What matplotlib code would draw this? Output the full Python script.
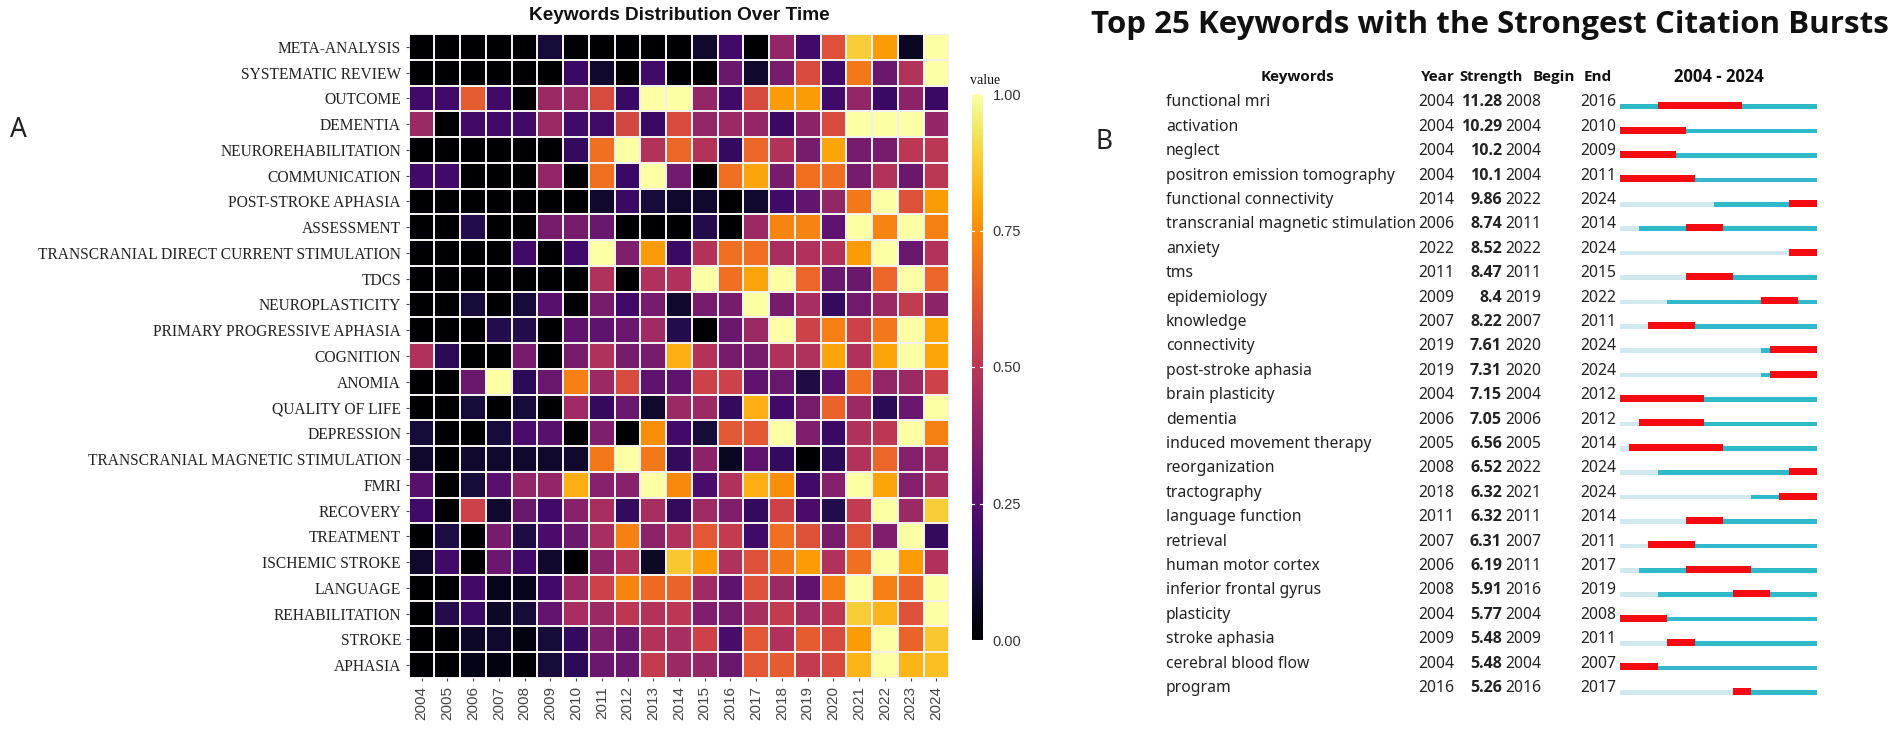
import numpy as np
import matplotlib
matplotlib.use('Agg')
import matplotlib.pyplot as plt

W, H = 1902, 731

# left panel: keyword frequency by year (normalised)
heat_years = list(range(2004, 2025))
heat_keywords = [
    "META-ANALYSIS", "SYSTEMATIC REVIEW", "OUTCOME", "DEMENTIA", "NEUROREHABILITATION",
    "COMMUNICATION", "POST-STROKE APHASIA", "ASSESSMENT", "TRANSCRANIAL DIRECT CURRENT STIMULATION",
    "TDCS", "NEUROPLASTICITY", "PRIMARY PROGRESSIVE APHASIA", "COGNITION", "ANOMIA",
    "QUALITY OF LIFE", "DEPRESSION", "TRANSCRANIAL MAGNETIC STIMULATION", "FMRI", "RECOVERY",
    "TREATMENT", "ISCHEMIC STROKE", "LANGUAGE", "REHABILITATION", "STROKE", "APHASIA",
]
heat_values = [
    [0, 0, 0, 0, 0, .1, 0, 0, 0, 0, 0, .08, .2, 0, .4, .2, .6, .88, .78, .06, 1],
    [0, 0, 0, 0, 0, 0, .18, .08, 0, .2, 0, 0, .3, .08, .33, .58, .2, .7, .3, .48, 1],
    [.2, .2, .63, .2, 0, .42, .42, .58, .18, 1, 1, .4, .2, .58, .78, .78, .2, .4, .18, .38, .18],
    [.42, 0, .2, .2, .2, .42, .2, .2, .57, .18, .58, .4, .42, .4, .18, .38, .58, 1, 1, 1, .4],
    [0, 0, 0, 0, 0, 0, .17, .68, 1, .48, .66, .48, .17, .66, .48, .33, .8, .33, .33, .5, .5],
    [.2, .2, 0, 0, 0, .4, 0, .68, .18, 1, .32, 0, .68, .8, .33, .68, .68, .33, .48, .3, .5],
    [0, 0, 0, 0, 0, 0, 0, .08, .18, .1, .08, .08, 0, .08, .2, .28, .4, .7, 1, .6, .78],
    [0, 0, .13, 0, 0, .33, .33, .3, 0, 0, 0, .13, 0, .42, .73, .73, .27, 1, .73, 1, .72],
    [0, 0, 0, 0, .2, 0, .2, 1, .35, .78, .18, .48, .68, .68, .45, .47, .47, .78, 1, .3, .48],
    [0, 0, 0, 0, 0, 0, 0, .47, 0, .47, .47, 1, .68, .8, 1, .66, .3, .3, .66, 1, .66],
    [0, 0, .1, 0, .1, .25, 0, .33, .2, .33, .08, .33, .33, 1, .33, .45, .17, .32, .42, .52, .38],
    [0, 0, 0, .13, .13, 0, .27, .27, .3, .43, .13, 0, .3, .42, 1, .55, .72, .55, .7, 1, .8],
    [.47, .15, 0, 0, .33, 0, .33, .47, .33, .33, .82, .48, .33, .33, .47, .47, .8, .47, .8, 1, .8],
    [0, 0, .3, 1, .15, .3, .72, .42, .58, .27, .27, .55, .55, .27, .3, .12, .25, .68, .4, .42, .55],
    [0, 0, .1, 0, .1, 0, .43, .17, .3, .08, .42, .42, .17, .82, .2, .33, .65, .42, .15, .3, 1],
    [.1, 0, 0, .1, .22, .25, 0, .35, 0, .75, .2, .1, .62, .62, 1, .35, .18, .47, .5, 1, .72],
    [.08, 0, .08, .08, .08, .08, .08, .7, 1, .7, .17, .38, .06, .27, .17, 0, .15, .48, .66, .36, .43],
    [.25, 0, .1, .25, .4, .4, .82, .37, .37, 1, .74, .22, .47, .82, .75, .2, .36, 1, .8, .36, .45],
    [.2, 0, .55, .08, .3, .2, .37, .45, .17, .45, .17, .43, .35, .17, .55, .22, .13, .52, 1, .42, .88],
    [0, .12, 0, .33, .12, .22, .3, .45, .72, .38, .47, .62, .52, .2, .68, .6, .33, .6, .35, 1, .17],
    [.08, .2, 0, .3, .2, .08, 0, .38, .47, .07, .87, .78, .47, .6, .7, .78, .47, .68, 1, .78, .47],
    [0, 0, .2, .05, .05, .2, .42, .55, .73, .67, .65, .43, .27, .6, .42, .27, .72, 1, .72, .65, 1],
    [0, .13, .18, .07, .1, .28, .45, .42, .5, .48, .5, .35, .33, .45, .52, .43, .5, .88, .83, .6, 1],
    [0, 0, .07, .08, .03, .1, .17, .35, .3, .48, .45, .55, .22, .62, .47, .63, .58, .78, 1, .65, .87],
    [0, 0, .04, .03, 0, .1, .15, .3, .3, .52, .42, .4, .3, .62, .63, .52, .58, .83, 1, .83, .85],
]

# right panel: citation bursts
burst_keywords = [
    "functional mri", "activation", "neglect", "positron emission tomography",
    "functional connectivity", "transcranial magnetic stimulation", "anxiety", "tms",
    "epidemiology", "knowledge", "connectivity", "post-stroke aphasia", "brain plasticity",
    "dementia", "induced movement therapy", "reorganization", "tractography",
    "language function", "retrieval", "human motor cortex", "inferior frontal gyrus",
    "plasticity", "stroke aphasia", "cerebral blood flow", "program",
]
burst_year = [2004, 2004, 2004, 2004, 2014, 2006, 2022, 2011, 2009, 2007, 2019, 2019, 2004,
              2006, 2005, 2008, 2018, 2011, 2007, 2006, 2008, 2004, 2009, 2004, 2016]
burst_strength = ["11.28", "10.29", "10.2", "10.1", "9.86", "8.74", "8.52", "8.47", "8.4",
                  "8.22", "7.61", "7.31", "7.15", "7.05", "6.56", "6.52", "6.32", "6.32",
                  "6.31", "6.19", "5.91", "5.77", "5.48", "5.48", "5.26"]
burst_begin = [2008, 2004, 2004, 2004, 2022, 2011, 2022, 2011, 2019, 2007, 2020, 2020, 2004,
               2006, 2005, 2022, 2021, 2011, 2007, 2011, 2016, 2004, 2009, 2004, 2016]
burst_end = [2016, 2010, 2009, 2011, 2024, 2014, 2024, 2015, 2022, 2011, 2024, 2024, 2012,
             2012, 2014, 2024, 2024, 2014, 2011, 2017, 2019, 2008, 2011, 2007, 2017]

def axes_px(fig, left, top, right, bottom):
    return fig.add_axes([left / W, 1 - bottom / H, (right - left) / W, (bottom - top) / H])

def text_px(x, y, s, **kw):
    kw.setdefault('va', 'center')
    fig.text(x / W, 1 - y / H, s, **kw)

fig = plt.figure(figsize=(W / 100, H / 100), dpi=100)

# heatmap
ax = axes_px(fig, 408.7, 34, 949.3, 678)
mesh = ax.pcolormesh(np.arange(22), np.arange(26), np.array(heat_values), cmap='inferno',
                     vmin=0, vmax=1, edgecolors='#f4f0f0', linewidth=1.1)
ax.set_xlim(0, 21)
ax.set_ylim(25, 0)
for s in ax.spines.values():
    s.set_visible(False)
ax.set_xticks(np.arange(21) + 0.5)
ax.set_xticklabels(heat_years, rotation=90, fontsize=11, color='#444444', family='Liberation Sans')
ax.set_yticks(np.arange(25) + 0.5)
ax.set_yticklabels(heat_keywords, fontsize=11.2, color='#222222', family='Liberation Serif')
ax.tick_params(axis='both', length=2.5, width=0.8, color='#444444', pad=3)
text_px(679, 16, "Keywords Distribution Over Time", ha='center', fontsize=13.7, fontweight='bold',
        family='Liberation Sans', color='#111111')

# colour bar
cax = axes_px(fig, 971.7, 94, 982.7, 640)
cb = fig.colorbar(mesh, cax=cax)
cb.outline.set_visible(False)
cb.set_ticks([0, .25, .5, .75, 1])
cb.set_ticklabels(['0.00', '0.25', '0.50', '0.75', '1.00'])
cb.ax.tick_params(length=0, labelsize=10.5, labelcolor='#333333', pad=7)
for t in cb.ax.get_yticklabels():
    t.set_family('Liberation Sans')
for v in [0, .25, .5, .75, 1]:
    cb.ax.plot([0, .22], [v, v], color='white', lw=0.8, clip_on=True)
    cb.ax.plot([.78, 1], [v, v], color='white', lw=0.8, clip_on=True)
text_px(985, 80, "value", ha='center', fontsize=10, family='Liberation Serif', color='#111111')

text_px(10, 130, "A", fontsize=19, family='Noto Sans', color='#222222')
text_px(1096, 142, "B", fontsize=19, family='Noto Sans', color='#222222')

# burst table
text_px(1490, 25, "Top 25 Keywords with the Strongest Citation Bursts", ha='center', fontsize=22.5,
        fontweight='bold', family='Open Sans', color='#111111')
head = dict(fontsize=11, fontweight='bold', family='Open Sans', color='#111111')
text_px(1297, 77, "Keywords", ha='center', **head)
text_px(1421, 77, "Year", **head)
text_px(1459, 77, "Strength", fontsize=10.5, fontweight='bold', family='Open Sans', color='#111111')
text_px(1575, 77, "Begin", ha='right', **head)
text_px(1584, 77, "End", **head)
text_px(1719, 77, "2004 - 2024", ha='center', fontsize=12, fontweight='bold', family='Open Sans',
        color='#111111')

row_h = 24.4
body = dict(fontsize=11.3, family='Noto Sans', color='#222222')
for i, kw in enumerate(burst_keywords):
    y = 102.5 + row_h * i
    text_px(1166, y, kw, **body)
    text_px(1418, y, str(burst_year[i]), **body)
    text_px(1502, y, burst_strength[i], ha='right', fontsize=11.5, fontweight='bold',
            family='Open Sans', color='#222222')
    text_px(1505, y, str(burst_begin[i]), **body)
    text_px(1580, y, str(burst_end[i]), **body)

# burst timeline, x axis in years, y axis in rows
tl = axes_px(fig, 1620, 106.7 - row_h / 2, 1817, 106.7 + row_h * 24.5)
tl.set_xlim(2004, 2025)
tl.set_ylim(24.5, -0.5)
tl.axis('off')
rows = np.arange(25)
year = np.array(burst_year)
begin = np.array(burst_begin)
end = np.array(burst_end)
tl.barh(rows, year - 2004, left=2004, height=0.19, color='#cfe9ee')
tl.barh(rows, begin - year, left=year, height=0.19, color='#2fb9ca')
tl.barh(rows, 2024 - end, left=end + 1, height=0.19, color='#2fb9ca')
tl.barh(rows - 0.04, end + 1 - begin, left=begin, height=0.29, color='#f40a10')

fig.savefig('out.png', dpi=100)
